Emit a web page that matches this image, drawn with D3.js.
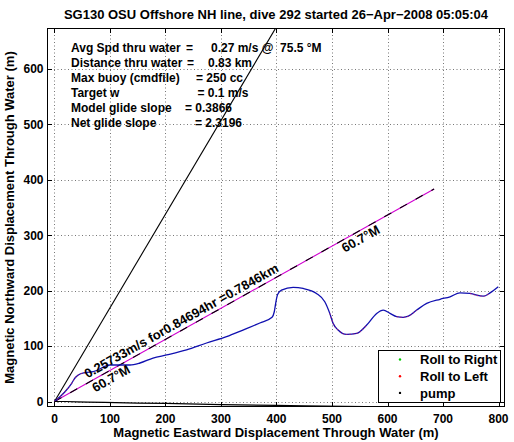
<!DOCTYPE html>
<html><head><meta charset="utf-8">
<script src="https://cdn.jsdelivr.net/npm/d3@7"></script>
<style>
html,body{margin:0;padding:0;background:#fff;}
svg{display:block;font-family:"Liberation Sans",Arial,Helvetica,sans-serif;font-weight:bold;}
</style></head>
<body><svg id="c" width="514" height="442"></svg>
<script>
// ---- data ----
const title = "SG130 OSU Offshore NH line, dive 292 started 26\u2212Apr\u22122008 05:05:04";
const xLabel = "Magnetic Eastward Displacement Through Water (m)";
const yLabel = "Magnetic Northward Displacement Through Water (m)";
const xTicks = [0, 100, 200, 300, 400, 500, 600, 700, 800];
const yTicks = [0, 100, 200, 300, 400, 500, 600];
const xDomain = [-13.5, 811.7];
const yDomain = [-9.9, 674];

// glider track through water (x east, y north)
const trackX = [0, 18.9, 31, 36.9, 42.9, 55, 69.9, 100, 123.4, 136, 154, 177.5, 202, 238, 274, 310, 339.6, 370, 392, 396, 399, 402, 409, 430, 448, 472, 487, 496, 502, 511, 526.5, 544.5, 562.5, 580.5, 592.4, 604.5, 616.6, 628.5, 637.5, 652.6, 670.6, 694.6, 712.6, 730.6, 748.6, 772.6, 784.7, 799.6];
const trackY = [0, 17.7, 32.9, 42.4, 47.8, 52, 53.8, 65.9, 65.9, 65.9, 69.5, 78.5, 84, 93, 105.6, 117, 129, 141.7, 152, 162, 180, 193, 201, 206, 204, 195, 180, 159, 141, 129, 121, 123, 138, 159, 165, 159, 153, 152, 154, 165, 177, 184.5, 189, 196, 195, 190, 196, 207];
// track index ranges flagged as "Roll to Left"
const rollLeftRanges = [[0, 5], [27, 32], [36, 39], [44, 46]];

// pump samples
const pumpX = [0, 20, 40, 60, 90, 150, 200, 300, 400, 450, 560, 680, 800];
const pumpY = [0, 0, -0.5, -1, -1.5, -3, -3.5, -5.5, -7, -8, -9, -9.3, -9.5];

// heading line (black) and net displacement line (magenta)
const headingEnd = [414, 700];
const netEnd = [684, 383.6];
const netLabel = "0.25733m/s for0.84694hr =0.7846km";
const netAngleLabel = "60.7\u00b0M";

const infoLabels = ["Avg Spd thru water", "Distance thru water", "Max buoy (cmdfile)", "Target w", "Model glide slope", "Net glide slope"];
const infoEquals = ["=", "=", "= 250 cc", "= 0.1 m/s", "= 0.3866", "= 2.3196"];
const infoValues = ["0.27 m/s @  75.5 \u00b0M", "0.83 km", "", "", "", ""];

const legendLabels = ["Roll to Right", "Roll to Left", "pump"];
const legendColors = ["#00cc00", "#ff0000", "#000000"];

// ---- layout ----
const L = 47, R = 505, T = 28, B = 407;
const svg = d3.select("#c");
const x = d3.scaleLinear().domain(xDomain).range([L, R]);
const y = d3.scaleLinear().domain(yDomain).range([B, T]);

svg.append("defs").append("clipPath").attr("id", "clip")
  .append("rect").attr("x", L).attr("y", T).attr("width", R - L).attr("height", B - T);

// grid
const grid = svg.append("g").attr("stroke", "#777").attr("stroke-width", 1).attr("stroke-dasharray", "1,2.5");
grid.selectAll(".gx").data(xTicks).join("line")
  .attr("x1", d => Math.round(x(d)) + 0.5).attr("x2", d => Math.round(x(d)) + 0.5).attr("y1", T).attr("y2", B);
grid.selectAll(".gy").data(yTicks).join("line")
  .attr("y1", d => Math.round(y(d)) + 0.5).attr("y2", d => Math.round(y(d)) + 0.5).attr("x1", L).attr("x2", R);

// info text
const info = svg.append("g").attr("font-size", 12).attr("fill", "#000");
const eqX = [186, 187, 196, 197.5, 185, 195];
const valX = [211, 208, 0, 0, 0, 0];
infoLabels.forEach((t, i) => {
  const yy = 51.5 + i * 15;
  info.append("text").attr("x", 71).attr("y", yy).text(t);
  info.append("text").attr("x", eqX[i]).attr("y", yy).text(infoEquals[i]);
  if (infoValues[i]) info.append("text").attr("x", valX[i]).attr("y", yy).attr("xml:space", "preserve").style("white-space", "pre").text(infoValues[i]);
});

const plot = svg.append("g").attr("clip-path", "url(#clip)");
const line = d3.line().x(d => x(d[0])).y(d => y(d[1]));
const smooth = d3.line().x(d => x(d[0])).y(d => y(d[1])).curve(d3.curveMonotoneX);

// heading line
plot.append("path").attr("d", line([[0, 0], headingEnd])).attr("fill", "none").attr("stroke", "#000").attr("stroke-width", 1.1);

// net line: magenta with black dashes
plot.append("path").attr("d", line([[0, 0], netEnd])).attr("fill", "none").attr("stroke", "#d000d0").attr("stroke-width", 1.1);
plot.append("path").attr("d", line([[0, 0], netEnd])).attr("fill", "none").attr("stroke", "#000").attr("stroke-width", 1.1).attr("stroke-dasharray", "8,10");

// track
const track = trackX.map((v, i) => [v, trackY[i]]);
plot.append("path").attr("d", smooth(track)).attr("fill", "none").attr("stroke", "#1010b0").attr("stroke-width", 1.3);
rollLeftRanges.forEach(r => {
  plot.append("path").attr("d", smooth(track.slice(r[0], r[1] + 1)))
    .attr("fill", "none").attr("stroke", "#e01060").attr("stroke-width", 1.1).attr("stroke-dasharray", "1.5,2").attr("opacity", 0.6);
});

// pump
const pump = pumpX.map((v, i) => [v, pumpY[i]]);
plot.append("path").attr("d", line(pump)).attr("fill", "none").attr("stroke", "#000").attr("stroke-width", 1.2);

// rotated labels along net line
const sx0 = x(0), sy0 = y(0);
const ang = Math.atan2(y(netEnd[1]) - sy0, x(netEnd[0]) - sx0) * 180 / Math.PI;
const ux = Math.cos(ang * Math.PI / 180), uy = Math.sin(ang * Math.PI / 180);
function along(d) { return [sx0 + ux * d, sy0 + uy * d]; }
const p1 = along(40), p2 = along(326);
svg.append("text").attr("font-size", 13).attr("transform", `translate(${p1[0]},${p1[1]}) rotate(${ang})`).attr("dy", -4).text(netLabel);
svg.append("text").attr("font-size", 13).attr("transform", `translate(${p1[0]},${p1[1]}) rotate(${ang})`).attr("dy", 12).text(netAngleLabel);
svg.append("text").attr("font-size", 13).attr("transform", `translate(${p2[0]},${p2[1]}) rotate(${ang})`).attr("dy", 12).text(netAngleLabel);

// axes box
svg.append("rect").attr("x", L + 0.5).attr("y", T + 0.5).attr("width", R - L - 1).attr("height", B - T - 1).attr("fill", "none").attr("stroke", "#000").attr("stroke-width", 1);

// ticks (inward, all sides)
const tk = 5;
const ticks = svg.append("g").attr("stroke", "#000").attr("stroke-width", 1);
xTicks.forEach(d => {
  const xx = Math.round(x(d)) + 0.5;
  ticks.append("line").attr("x1", xx).attr("x2", xx).attr("y1", B).attr("y2", B - tk);
  ticks.append("line").attr("x1", xx).attr("x2", xx).attr("y1", T).attr("y2", T + tk);
});
yTicks.forEach(d => {
  const yy = Math.round(y(d)) + 0.5;
  ticks.append("line").attr("y1", yy).attr("y2", yy).attr("x1", L).attr("x2", L + tk);
  ticks.append("line").attr("y1", yy).attr("y2", yy).attr("x1", R).attr("x2", R - tk);
});

// tick labels
const tl = svg.append("g").attr("font-size", 12);
tl.selectAll(".xl").data(xTicks).join("text").attr("x", d => x(d)).attr("y", 422.5).attr("text-anchor", "middle").text(d => d);
tl.selectAll(".yl").data(yTicks).join("text").attr("x", 43.5).attr("y", d => y(d) + 4.3).attr("text-anchor", "end").text(d => d);

// titles
svg.append("text").attr("x", (L + R) / 2).attr("y", 19).attr("text-anchor", "middle").attr("font-size", 13).text(title);
svg.append("text").attr("x", (L + R) / 2).attr("y", 437).attr("text-anchor", "middle").attr("font-size", 13).text(xLabel);
svg.append("text").attr("transform", `translate(14,${(T + B) / 2}) rotate(-90)`).attr("text-anchor", "middle").attr("font-size", 13).text(yLabel);

// legend
const lg = svg.append("g");
lg.append("rect").attr("x", 378.5).attr("y", 350.5).attr("width", 122).attr("height", 52).attr("fill", "#fff").attr("stroke", "#000").attr("stroke-width", 1);
legendLabels.forEach((t, i) => {
  const yy = 359.5 + i * 16.7;
  lg.append("circle").attr("cx", 400).attr("cy", yy).attr("r", 1.2).attr("fill", legendColors[i]);
  lg.append("text").attr("x", 420).attr("y", yy + 4.6).attr("font-size", 13).text(t);
});
</script></body></html>
